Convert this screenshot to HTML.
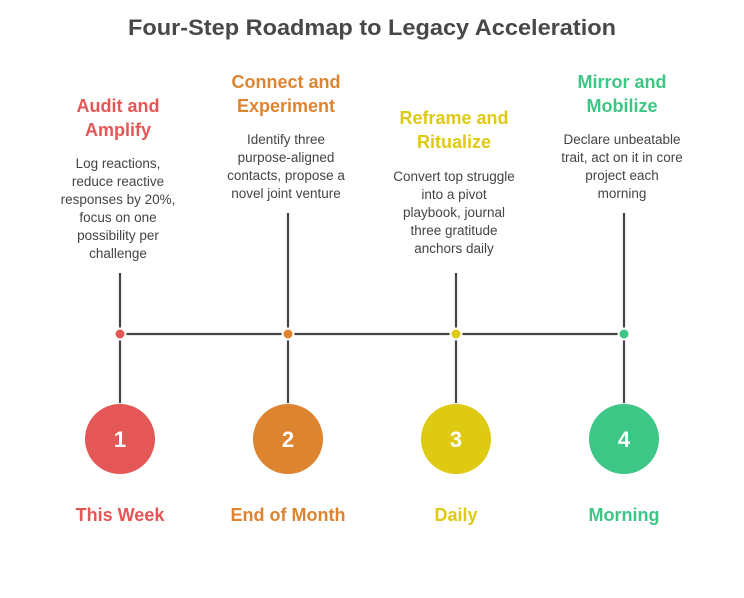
<!DOCTYPE html>
<html><head><meta charset="utf-8"><style>
html,body{margin:0;padding:0;background:#fff;}
svg{display:block;}
text{font-family:"Liberation Sans",sans-serif;text-anchor:middle;}
.h{font-weight:bold;font-size:18px;}
.b{font-size:13.5px;fill:#444;}
.n{font-weight:bold;font-size:22px;fill:#fff;}
</style></head><body>
<svg width="744" height="598" viewBox="0 0 744 598" xmlns="http://www.w3.org/2000/svg">
<text x="372" y="35" font-weight="bold" font-size="22" fill="#484848" textLength="488" lengthAdjust="spacingAndGlyphs">Four-Step Roadmap to Legacy Acceleration</text>

<g stroke="#444" stroke-width="2.2">
<line x1="120" y1="334" x2="624" y2="334"/>
<line x1="120" y1="273" x2="120" y2="403"/>
<line x1="288" y1="213" x2="288" y2="403"/>
<line x1="456" y1="273" x2="456" y2="403"/>
<line x1="624" y1="213" x2="624" y2="403"/>
</g>
<g stroke="#fff" stroke-width="2">
<circle cx="120" cy="334" r="5.5" fill="#E55757"/>
<circle cx="288" cy="334" r="5.5" fill="#DD8431"/>
<circle cx="456" cy="334" r="5.5" fill="#DEC913"/>
<circle cx="624" cy="334" r="5.5" fill="#3DC685"/>
</g>

<circle cx="120" cy="439" r="35" fill="#E55757"/>
<circle cx="288" cy="439" r="35" fill="#DD8431"/>
<circle cx="456" cy="439" r="35" fill="#DEC913"/>
<circle cx="624" cy="439" r="35" fill="#3DC685"/>
<text class="n" x="120" y="447">1</text>
<text class="n" x="288" y="447">2</text>
<text class="n" x="456" y="447">3</text>
<text class="n" x="624" y="447">4</text>

<text class="h" x="120" y="521" fill="#E55757">This Week</text>
<text class="h" x="288" y="521" fill="#DD8431">End of Month</text>
<text class="h" x="456" y="521" fill="#DEC913">Daily</text>
<text class="h" x="624" y="521" fill="#3DC685">Morning</text>

<text class="h" fill="#E55757"><tspan x="118" y="112">Audit and</tspan><tspan x="118" y="136">Amplify</tspan></text>
<text class="b"><tspan x="118" y="168">Log reactions,</tspan><tspan x="118" y="186">reduce reactive</tspan><tspan x="118" y="204">responses by 20%,</tspan><tspan x="118" y="222">focus on one</tspan><tspan x="118" y="240">possibility per</tspan><tspan x="118" y="258">challenge</tspan></text>

<text class="h" fill="#DD8431"><tspan x="286" y="88">Connect and</tspan><tspan x="286" y="112">Experiment</tspan></text>
<text class="b"><tspan x="286" y="144">Identify three</tspan><tspan x="286" y="162">purpose-aligned</tspan><tspan x="286" y="180">contacts, propose a</tspan><tspan x="286" y="198">novel joint venture</tspan></text>

<text class="h" fill="#DEC913"><tspan x="454" y="124">Reframe and</tspan><tspan x="454" y="148">Ritualize</tspan></text>
<text class="b"><tspan x="454" y="181">Convert top struggle</tspan><tspan x="454" y="199">into a pivot</tspan><tspan x="454" y="217">playbook, journal</tspan><tspan x="454" y="235">three gratitude</tspan><tspan x="454" y="253">anchors daily</tspan></text>

<text class="h" fill="#3DC685"><tspan x="622" y="88">Mirror and</tspan><tspan x="622" y="112">Mobilize</tspan></text>
<text class="b"><tspan x="622" y="144">Declare unbeatable</tspan><tspan x="622" y="162">trait, act on it in core</tspan><tspan x="622" y="180">project each</tspan><tspan x="622" y="198">morning</tspan></text>
</svg>
</body></html>
